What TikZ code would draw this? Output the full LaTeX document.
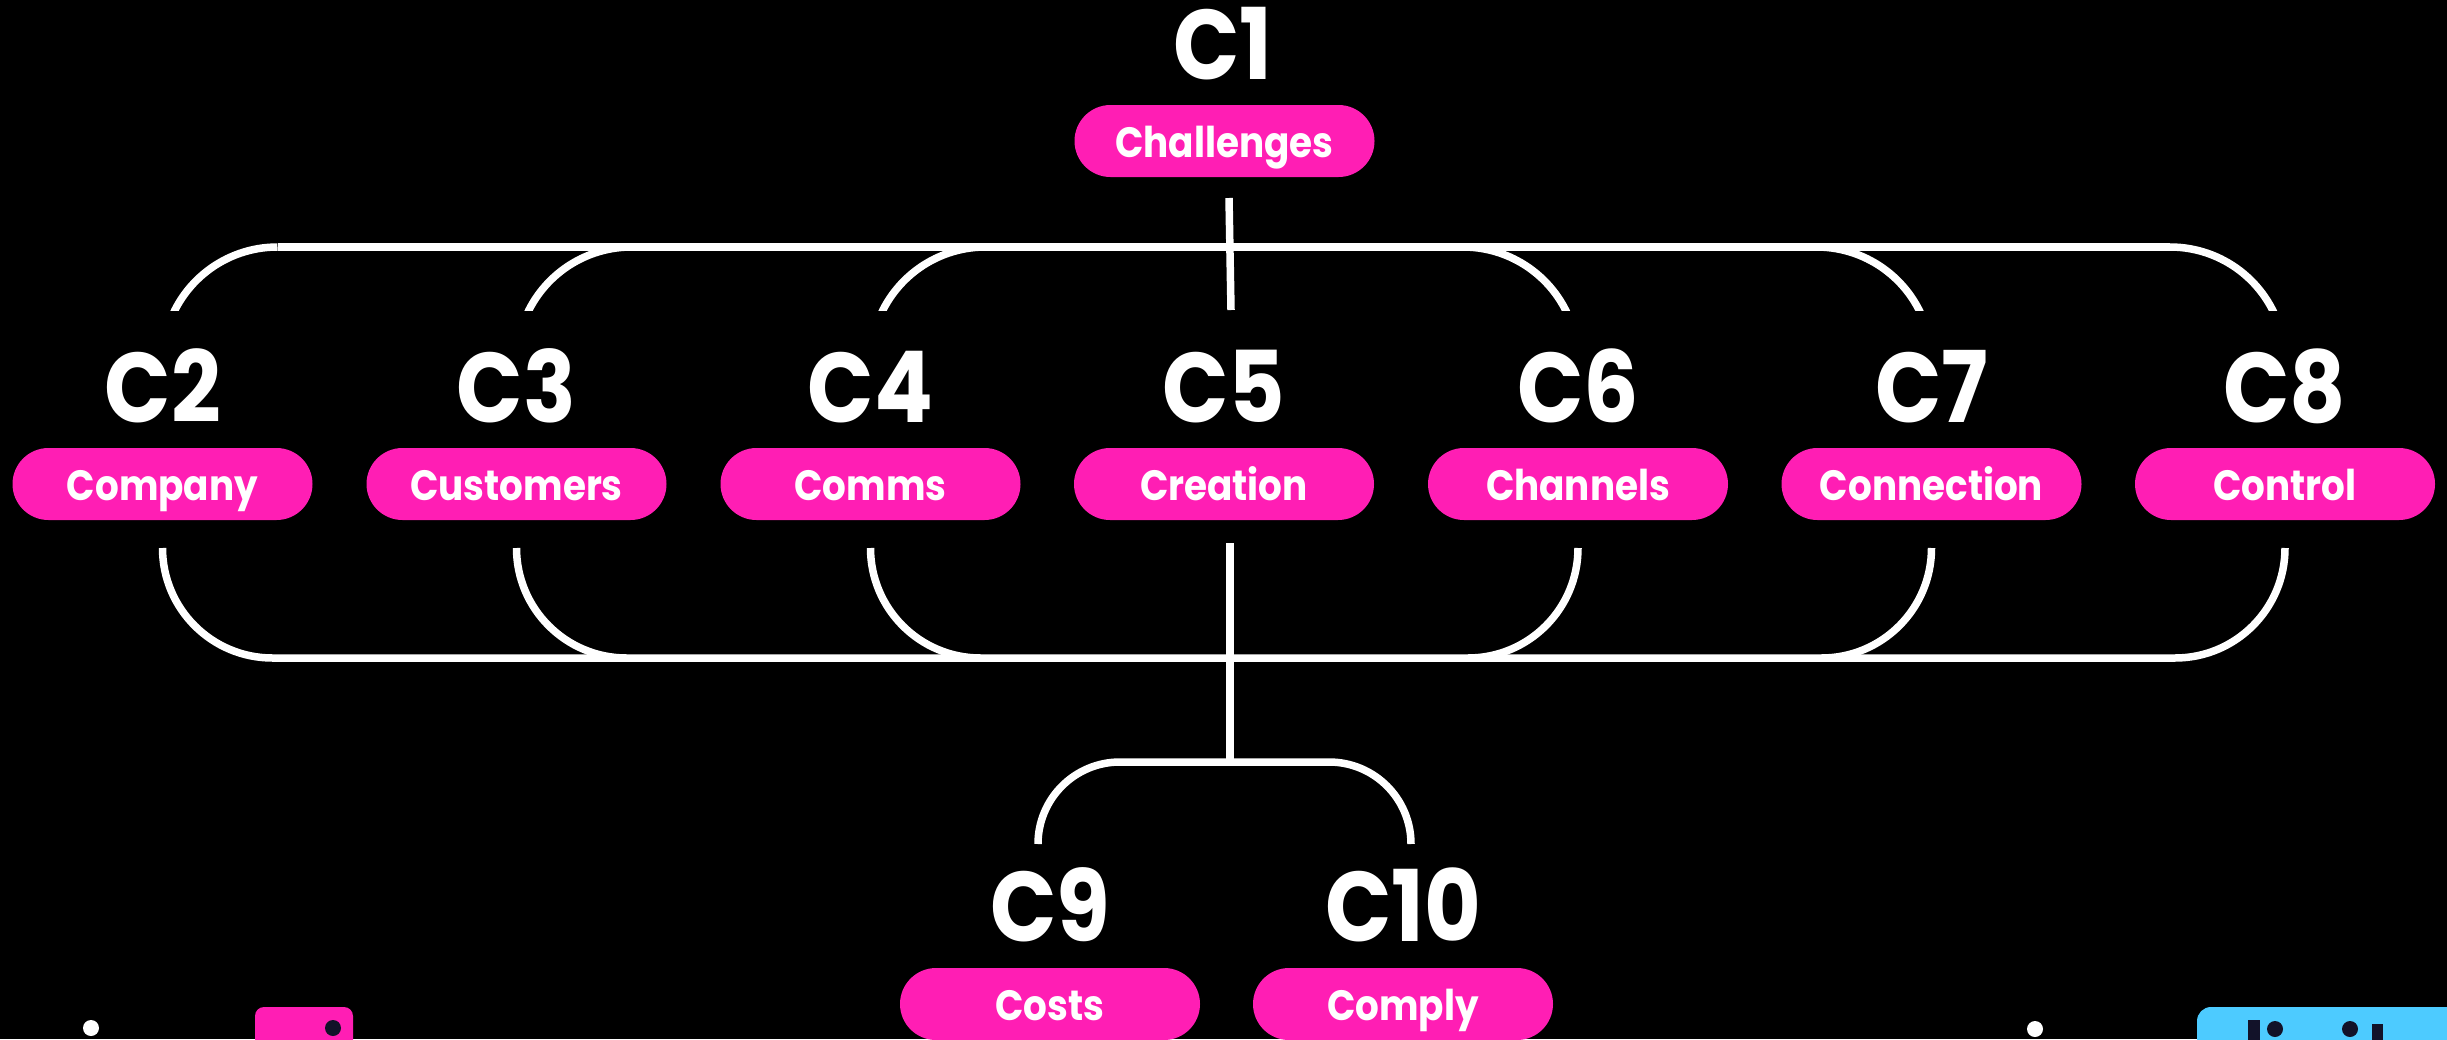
\documentclass[tikz,border=0pt]{standalone}
\usepackage{fontspec}
\setmainfont{Poppins}[FakeStretch=0.88]
\usetikzlibrary{calc}
\definecolor{pinkc}{HTML}{FF1EB4}
\definecolor{bluec}{HTML}{4DCBFF}
\definecolor{darkc}{HTML}{121229}
\begin{document}
\begin{tikzpicture}[x=0.5pt,y=-0.5pt,
  conn/.style={draw=white,line width=3.75pt},
  lab/.style={text=white,font=\bfseries\fontsize{49.5}{50}\selectfont,anchor=base,inner sep=0pt},
  pill/.style={fill=pinkc,rounded corners=18pt,minimum width=150pt,minimum height=36pt,inner sep=0pt,
    text=white,font=\bfseries\fontsize{21.2}{22}\selectfont,text height=16.8pt,text depth=0pt}]
\fill[black] (0,0) rectangle (2447,1039);
\useasboundingbox (0,0) rectangle (2447,1039);
\clip (0,0) rectangle (2447,1039);

% labels and pills
\node[lab] (l1) at (1223,79) {C1};
\node[pill] (p1) at (1224.5,141) {Challenges};
\node[lab] (l2) at (163,422) {C2};
\node[lab] (l3) at (516.5,422) {C3};
\node[lab] (l4) at (870.5,422) {C4};
\node[lab] (l5) at (1224,422) {C5};
\node[lab] (l6) at (1578,422) {C6};
\node[lab] (l7) at (1931.5,422) {C7};
\node[lab] (l8) at (2285,422) {C8};
\node[pill] (p2) at (162.5,484) {Company};
\node[pill] (p3) at (516.5,484) {Customers};
\node[pill] (p4) at (870.5,484) {Comms};
\node[pill] (p5) at (1224,484) {Creation};
\node[pill] (p6) at (1578,484) {Channels};
\node[pill] (p7) at (1931.5,484) {Connection};
\node[pill] (p8) at (2285,484) {Control};
\node[lab] (l9) at (1050,941) {C9};
\node[lab] (l10) at (1403,941) {C10};
\node[pill] (p9) at (1050,1004) {Costs};
\node[pill] (p10) at (1403,1004) {Comply};

% reference heights
\coordinate (ty) at (0,247);
\coordinate (by) at (0,658);
\coordinate (sy) at (0,548);

% top bracket
\begin{scope}
\clip (0,0) rectangle (2447,310);
\draw[conn] ($(p2|-ty)+(115,0)$) -- ($(p8|-ty)-(115,0)$);
\foreach \n in {p2,p3,p4} \draw[conn] ($(\n|-ty)+(115,0)$) arc[start angle=270,end angle=195,radius=115];
\foreach \n in {p6,p7,p8} \draw[conn] ($(\n|-ty)-(115,0)$) arc[start angle=270,end angle=345,radius=115];
\end{scope}
\coordinate (v1a) at (1229,198);
\coordinate (v1b) at (1231,310);
\draw[conn] (v1a) -- (v1b);

% bottom bracket
\draw[conn] (p2|-sy) arc[start angle=180,end angle=90,radius=110] -- ($(p8|-by)-(110,0)$) arc[start angle=90,end angle=0,radius=110];
\foreach \n in {p3,p4} \draw[conn] (\n|-sy) arc[start angle=180,end angle=90,radius=110];
\foreach \n in {p6,p7} \draw[conn] (\n|-sy) arc[start angle=0,end angle=90,radius=110];

% C5 to C9/C10
\coordinate (v5a) at (1230,543);
\coordinate (v5b) at (1230,762);
\draw[conn] (v5a) -- (v5b);
\coordinate (a9) at (1038,844);
\coordinate (a10) at (1329,762);
\draw[conn] (a9) arc[start angle=180,end angle=270,radius=82] -- (a10) arc[start angle=270,end angle=360,radius=82];

% corner decorations
\fill[white] (91,1028) circle[radius=8];
\fill[white] (2035,1029) circle[radius=8];
\fill[pinkc,rounded corners=4.5pt] (255,1070) rectangle (353,1007);
\fill[darkc] (333,1028) circle[radius=8];
\fill[bluec,rounded corners=7pt] (2197,1007) rectangle (2480,1070);
\fill[darkc] (2248,1020) rectangle (2260,1045);
\fill[darkc] (2275,1029) circle[radius=8];
\fill[darkc] (2350,1029) circle[radius=8];
\fill[darkc] (2372,1024) rectangle (2383,1045);
\end{tikzpicture}
\end{document}
